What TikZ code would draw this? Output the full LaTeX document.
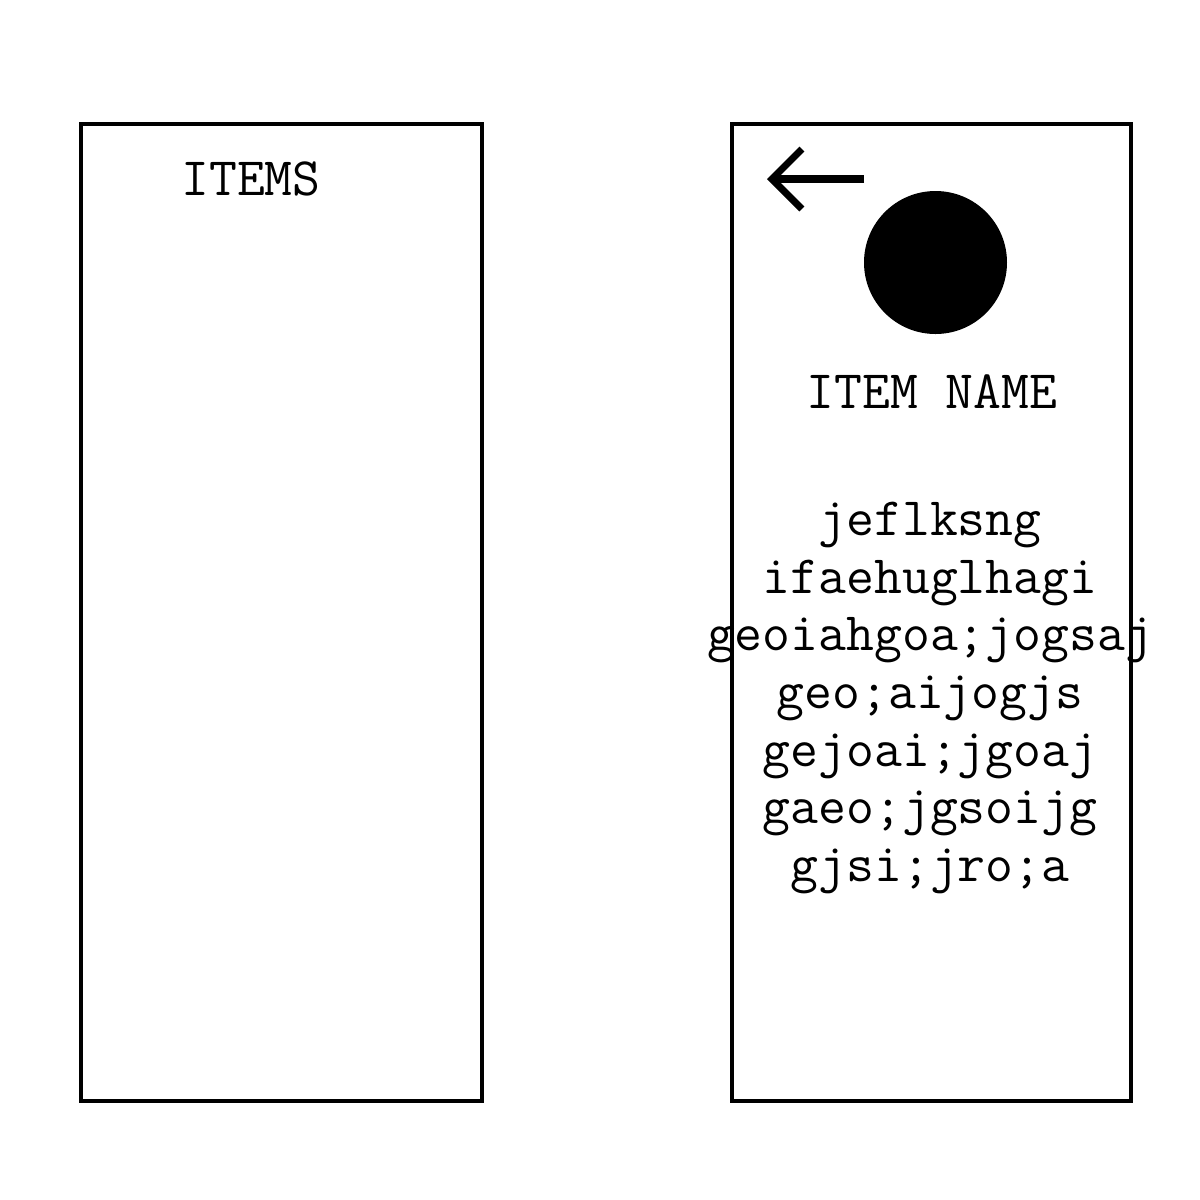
\documentclass[tikz,border=0pt]{standalone}
\usepackage{fontspec}
\usetikzlibrary{arrows.meta}

\tikzset{
    screen/.style={draw, line width=1.15pt},
    label/.style={font=\ttfamily\fontsize{15.4}{16.4}\selectfont, inner sep=0pt}
}

\begin{document}
\begin{tikzpicture}
                \useasboundingbox (0,0) rectangle (12,-12);
                % list screen
                \draw[screen] (0.81,-1.24) rectangle (4.82,-11.01);
                \node[label] (items) at (2.51,-1.79) {ITEMS};
                % detail screen
                \draw[screen] (7.32,-1.24) rectangle (11.31,-11.01);
                \coordinate (backstart) at (8.64,-1.79);
                \coordinate (backend) at (7.67,-1.79);
                \draw[line width=2pt, -{Straight Barb[length=3mm, width=6mm]}] (backstart) -- (backend);
                \fill (9.355,-2.625) circle (0.715);
                \node[label] (name) at (9.32,-3.92) {ITEM NAME};
                \node[label, align=center] (desc) at (9.30,-6.98) {jeflksng\\
                    ifaehuglhagi\\
                    geoiahgoa;jogsaj\\
                    geo;aijogjs\\
                    gejoai;jgoaj\\
                    gaeo;jgsoijg\\
                    gjsi;jro;a};
            \end{tikzpicture}
\end{document}
